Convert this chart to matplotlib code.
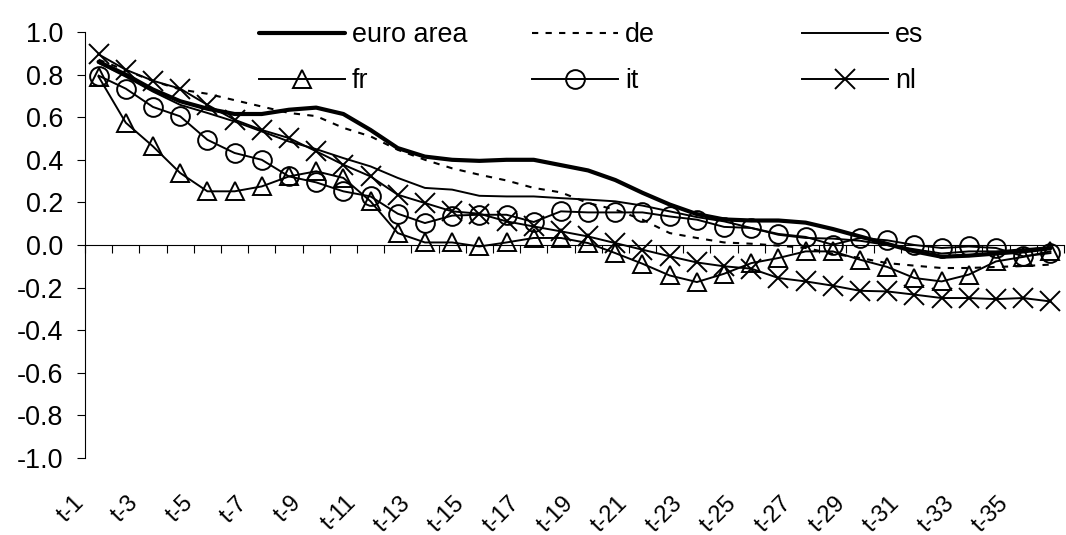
import matplotlib
matplotlib.use("Agg")
import matplotlib.pyplot as plt
import numpy as np

categories = [f"t-{i}" for i in range(1, 37)]
tick_labels = [f"t-{i}" for i in range(1, 37, 2)]
y_ticks = [-1.0, -0.8, -0.6, -0.4, -0.2, 0.0, 0.2, 0.4, 0.6, 0.8, 1.0]
y_tick_labels = ["-1.0", "-0.8", "-0.6", "-0.4", "-0.2", "0.0", "0.2", "0.4", "0.6", "0.8", "1.0"]

euro_area = [0.86, 0.80, 0.73, 0.675, 0.64, 0.615, 0.615, 0.635, 0.645, 0.615,
             0.54, 0.455, 0.415, 0.40, 0.395, 0.40, 0.40, 0.375, 0.35, 0.305,
             0.245, 0.19, 0.145, 0.12, 0.115, 0.115, 0.105, 0.075, 0.04, 0.005,
             -0.03, -0.055, -0.05, -0.04, -0.03, -0.015]
de = [0.87, 0.82, 0.77, 0.73, 0.71, 0.68, 0.65, 0.62, 0.605, 0.55,
      0.51, 0.447, 0.40, 0.36, 0.33, 0.303, 0.268, 0.247, 0.197, 0.166,
      0.119, 0.056, 0.033, 0.012, 0.006, -0.003, -0.014, -0.041, -0.061, -0.085,
      -0.097, -0.108, -0.108, -0.103, -0.099, -0.092]
es = [0.855, 0.79, 0.72, 0.658, 0.62, 0.58, 0.533, 0.486, 0.45, 0.408,
      0.369, 0.315, 0.268, 0.26, 0.231, 0.228, 0.228, 0.22, 0.213, 0.205,
      0.185, 0.158, 0.131, 0.111, 0.08, 0.048, 0.033, 0.03, 0.02, 0.0,
      -0.02, -0.04, -0.03, -0.03, -0.02, -0.01]
fr = [0.79, 0.574, 0.463, 0.338, 0.252, 0.252, 0.275, 0.322, 0.346, 0.315,
      0.205, 0.056, 0.012, 0.012, -0.007, 0.012, 0.033, 0.033, 0.009, -0.038,
      -0.088, -0.143, -0.174, -0.135, -0.085, -0.061, -0.030, -0.030, -0.069, -0.103,
      -0.155, -0.171, -0.139, -0.077, -0.056, -0.030]
it = [0.795, 0.734, 0.648, 0.604, 0.494, 0.432, 0.40, 0.322, 0.294, 0.252,
      0.228, 0.147, 0.103, 0.138, 0.142, 0.142, 0.108, 0.158, 0.153, 0.153,
      0.153, 0.134, 0.119, 0.085, 0.080, 0.052, 0.038, 0.001, 0.033, 0.022,
      0.0, -0.014, -0.007, -0.014, -0.053, -0.038]
nl = [0.895, 0.823, 0.771, 0.734, 0.658, 0.588, 0.54, 0.502, 0.44, 0.377,
      0.322, 0.236, 0.197, 0.158, 0.147, 0.111, 0.087, 0.064, 0.040, 0.009,
      -0.022, -0.053, -0.082, -0.10, -0.111, -0.155, -0.171, -0.191, -0.215, -0.218,
      -0.233, -0.249, -0.249, -0.254, -0.249, -0.265]

plt.rcParams['font.family'] = ['Liberation Sans', 'DejaVu Sans']
FS = 19.4
FSX = 17

W, H = 1066, 535
fig = plt.figure(figsize=(W / 100, H / 100), dpi=100)
ax = fig.add_axes([85 / W, 1 - 458 / H, (1064 - 85) / W, (458 - 32) / H])

x = np.arange(1, len(categories) + 1)
thin = 1.4
mk = dict(markersize=13.5, markeredgewidth=1.4, fillstyle='none', markeredgecolor='black')

l_euro, = ax.plot(x, euro_area, color='black', lw=3.0, solid_capstyle='round', label='euro area')
l_de, = ax.plot(x, de, color='black', lw=1.5, dashes=(3, 3.5), label='de')
l_es, = ax.plot(x, es, color='black', lw=thin, label='es')
l_fr, = ax.plot(x, fr, color='black', lw=thin, marker='^', label='fr', **mk)
l_it, = ax.plot(x, it, color='black', lw=thin, marker='o', label='it', **mk)
l_nl, = ax.plot(x, nl, color='black', lw=thin, marker='x', label='nl',
                markersize=14, markeredgewidth=1.4, markeredgecolor='black')

ax.set_xlim(0.5, len(categories) + 0.5)
ax.set_ylim(-1.0, 1.0)
ax.set_yticks(y_ticks)
ax.set_yticklabels(y_tick_labels, fontsize=FS)
ax.tick_params(axis='y', direction='out', length=5.8, width=0.8, pad=10)

for s in ['top', 'right']:
    ax.spines[s].set_visible(False)
ax.spines['bottom'].set_position(('data', 0))
ax.spines['bottom'].set_linewidth(0.8)
ax.spines['left'].set_linewidth(0.8)
ax.set_xticks(np.arange(0.5, len(categories) + 0.6, 1.0))
ax.set_xticklabels([])
ax.tick_params(axis='x', direction='out', length=5.8, width=0.8)

trans = ax.get_xaxis_transform()
for i, lab in enumerate(categories):
    if lab in tick_labels:
        ax.text(i + 1 - 0.66, -0.098, lab, transform=trans, rotation=45,
                rotation_mode='anchor', ha='right', va='center', fontsize=FSX)

legend_kw = dict(frameon=False, fontsize=FS, handlelength=3.2, handletextpad=0.25,
                 borderpad=0, borderaxespad=0, labelspacing=0.74, loc='upper left')
fig.legend([l_euro, l_fr], ['euro area', 'fr'], bbox_to_anchor=(259 / W, 1 - 22 / H), **legend_kw)
fig.legend([l_de, l_it], ['de', 'it'], bbox_to_anchor=(532 / W, 1 - 22 / H), **legend_kw)
fig.legend([l_es, l_nl], ['es', 'nl'], bbox_to_anchor=(802 / W, 1 - 22 / H), **legend_kw)

fig.savefig('out.png', dpi=100, facecolor='white')
